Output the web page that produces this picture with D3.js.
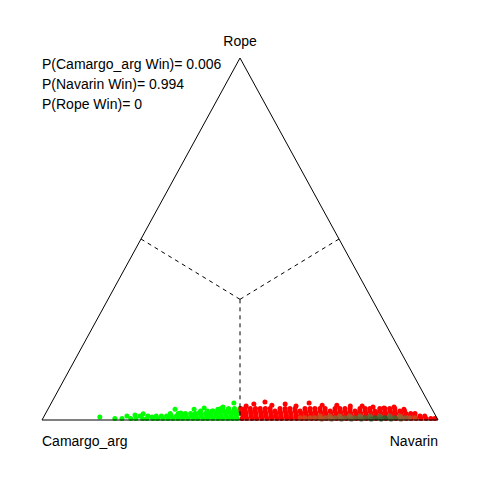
<!DOCTYPE html>
<html>
<head>
<meta charset="utf-8">
<script src="https://cdn.jsdelivr.net/npm/d3@7"></script>
<style>
  body { margin: 0; background: #fff; }
  svg text { font-family: "Liberation Sans", Arial, sans-serif; font-size: 14px; fill: #000; }
</style>
</head>
<body>
<svg id="simplex" width="480" height="480"></svg>
<script>
// vertex labels (left, right, top) and winner probabilities
const vertexNames = ["Camargo_arg", "Navarin", "Rope"];
const winLabels = ["P(Camargo_arg Win)= 0.006", "P(Navarin Win)= 0.994", "P(Rope Win)= 0"];

// posterior samples: rope probability levels and the "Navarin" probability of the samples on each level
const ropeLevels = [0.004, 0.011, 0.018, 0.025, 0.032];
const rightByLevel = [
  [0.182, 0.200, 0.222, 0.235, 0.252, 0.263, 0.278, 0.290, 0.303, 0.316, 0.328, 0.341, 0.353, 0.366, 0.379, 0.391, 0.404, 0.416, 0.429, 0.442, 0.454, 0.467, 0.479, 0.490,
   0.503, 0.515, 0.528, 0.540, 0.553, 0.566, 0.578, 0.591, 0.603, 0.616, 0.628, 0.641, 0.654, 0.666, 0.679, 0.691, 0.704, 0.716, 0.729, 0.742, 0.754, 0.767, 0.779, 0.792, 0.804, 0.817, 0.830, 0.842, 0.855, 0.867, 0.880, 0.892, 0.905, 0.918, 0.930, 0.943, 0.955, 0.968, 0.980, 0.990],
  [0.242, 0.262, 0.283, 0.296, 0.309, 0.321, 0.334, 0.347, 0.359, 0.372, 0.384, 0.397, 0.410, 0.422, 0.435, 0.447, 0.460, 0.472, 0.485,
   0.503, 0.509, 0.522, 0.534, 0.547, 0.559, 0.572, 0.584, 0.597, 0.610, 0.622, 0.635, 0.647, 0.660, 0.672, 0.685, 0.698, 0.710, 0.723, 0.735, 0.748, 0.760, 0.773, 0.786, 0.798, 0.811, 0.823, 0.836, 0.848, 0.861, 0.874, 0.886, 0.899, 0.911, 0.924, 0.936, 0.949, 0.961],
  [0.315, 0.335, 0.353, 0.366, 0.378, 0.391, 0.404, 0.416, 0.429, 0.441, 0.454, 0.467, 0.479, 0.489,
   0.495, 0.507, 0.520, 0.532, 0.545, 0.557, 0.570, 0.583, 0.595, 0.608, 0.620, 0.633, 0.646, 0.658, 0.671, 0.683, 0.696, 0.708, 0.721, 0.734, 0.746, 0.759, 0.771, 0.784, 0.796, 0.809, 0.822, 0.834, 0.847, 0.859, 0.872, 0.884, 0.897, 0.910, 0.922, 0.933],
  [0.388, 0.405, 0.420, 0.433, 0.446, 0.458, 0.471, 0.483,
   0.490, 0.501, 0.514, 0.526, 0.539, 0.551, 0.564, 0.576, 0.589, 0.602, 0.614, 0.627, 0.639, 0.652, 0.664, 0.677, 0.690, 0.702, 0.715, 0.727, 0.740, 0.752, 0.765, 0.778, 0.790, 0.803, 0.815, 0.828, 0.840, 0.853, 0.866, 0.878, 0.891, 0.903],
  [0.436, 0.455, 0.470, 0.484,
   0.486, 0.497, 0.510, 0.523, 0.535, 0.548, 0.560, 0.585, 0.598, 0.610, 0.623, 0.648, 0.661, 0.673, 0.686, 0.699, 0.724, 0.736, 0.749, 0.762, 0.787, 0.800, 0.812, 0.837, 0.850, 0.862, 0.875]
];

// scattered samples further away from the base: [Navarin, Rope]
const outliers = [
  [0.142, 0.008], [0.209, 0.011], [0.228, 0.014], [0.247, 0.017], [0.274, 0.008], [0.321, 0.030], [0.341, 0.019],
  [0.369, 0.030], [0.387, 0.019], [0.393, 0.033], [0.417, 0.025], [0.429, 0.030], [0.439, 0.036], [0.456, 0.028], [0.461, 0.047],
  [0.496, 0.039], [0.513, 0.044], [0.538, 0.050], [0.560, 0.041], [0.592, 0.044], [0.622, 0.039], [0.651, 0.047], [0.687, 0.041],
  [0.724, 0.041], [0.759, 0.039], [0.789, 0.039], [0.818, 0.036], [0.847, 0.033], [0.871, 0.036], [0.899, 0.030]
];

// dense core of the posterior: Navarin, Rope, relative density
const coreRight = [0.649, 0.661, 0.674, 0.686, 0.699, 0.712, 0.724, 0.737, 0.750, 0.762, 0.775, 0.787, 0.800, 0.813, 0.825, 0.838, 0.851, 0.863, 0.876, 0.888, 0.901, 0.914, 0.926, 0.939,
                   0.697, 0.722, 0.747, 0.772, 0.798, 0.823, 0.848, 0.873, 0.899,
                   0.705, 0.730, 0.755, 0.780, 0.805, 0.830, 0.855, 0.880, 0.905];
const coreRope = [0.006, 0.006, 0.006, 0.006, 0.006, 0.006, 0.006, 0.006, 0.006, 0.006, 0.006, 0.006, 0.006, 0.006, 0.006, 0.006, 0.006, 0.006, 0.006, 0.006, 0.006, 0.006, 0.006, 0.006,
                  0.011, 0.011, 0.011, 0.011, 0.011, 0.011, 0.011, 0.011, 0.011,
                  0.003, 0.003, 0.003, 0.003, 0.003, 0.003, 0.003, 0.003, 0.003];
const coreDensity = [0.15, 0.2, 0.25, 0.3, 0.35, 0.4, 0.45, 0.5, 0.55, 0.6, 0.65, 0.7, 0.75, 0.82, 0.9, 0.97, 1, 1, 0.95, 0.85, 0.7, 0.5, 0.35, 0.2,
                     0.2, 0.3, 0.35, 0.4, 0.5, 0.6, 0.7, 0.6, 0.35,
                     0.3, 0.4, 0.5, 0.6, 0.7, 0.85, 0.9, 0.75, 0.45];

const svg = d3.select('#simplex');

// base runs along x, rope goes up
const x = d3.scaleLinear().domain([0, 1]).range([42, 438]);
const y = d3.scaleLinear().domain([0, 1]).range([420, 58]);

// barycentric (left, right, rope) -> pixel
const px = (r, t) => x(r + t / 2);
const py = (r, t) => y(t);

const winColor = (r, t) => {
  const l = 1 - r - t;
  if (t > l && t > r) return "#0000ff";
  return r > l ? "#ff0000" : "#00ff00";
};

let samples = [];
ropeLevels.forEach((t, i) => rightByLevel[i].forEach(r => samples.push([r, t])));
samples = samples.concat(outliers);

svg.append("g")
  .selectAll("circle")
  .data(samples)
  .join("circle")
    .attr("cx", d => px(d[0], d[1]))
    .attr("cy", d => py(d[0], d[1]))
    .attr("r", 2.5)
    .attr("fill", d => winColor(d[0], d[1]));

const densColor = d3.scaleLinear().domain([0, 0.5, 1]).range(["#ff0000", "#7d6a3c", "#1a6630"]).interpolate(d3.interpolateLab);

svg.append("g")
  .selectAll("circle")
  .data(coreRight.map((r, i) => [r, coreRope[i], coreDensity[i]]))
  .join("circle")
    .attr("cx", d => px(d[0], d[1]))
    .attr("cy", d => py(d[0], d[1]))
    .attr("r", 2.6)
    .attr("fill", d => densColor(d[2]))
    .attr("opacity", 0.85);

// dashed regions: centroid to edge midpoints
const centroid = [1 / 3, 1 / 3];
const mids = [[0.5, 0], [0, 0.5], [0.5, 0.5]];
svg.append("g")
  .selectAll("line")
  .data(mids)
  .join("line")
    .attr("x1", px(centroid[0], centroid[1]))
    .attr("y1", py(centroid[0], centroid[1]))
    .attr("x2", d => px(d[0], d[1]))
    .attr("y2", d => py(d[0], d[1]))
    .attr("stroke", "#000")
    .attr("stroke-dasharray", "4,4");

// triangle
const corners = [[0, 0], [1, 0], [0, 1]];
svg.append("path")
  .attr("d", d3.line()(corners.map(c => [px(c[0], c[1]), py(c[0], c[1])])) + "Z")
  .attr("fill", "none")
  .attr("stroke", "#000")
  .attr("stroke-width", 1);

// vertex labels
svg.append("text").attr("x", px(0, 0)).attr("y", 446).attr("text-anchor", "start").text(vertexNames[0]);
svg.append("text").attr("x", px(1, 0)).attr("y", 446).attr("text-anchor", "end").text(vertexNames[1]);
svg.append("text").attr("x", px(0, 1)).attr("y", 46).attr("text-anchor", "middle").text(vertexNames[2]);

svg.append("g")
  .selectAll("text")
  .data(winLabels)
  .join("text")
    .attr("x", 42)
    .attr("y", (d, i) => 68.5 + i * 20)
    .text(d => d);
</script>
</body>
</html>
